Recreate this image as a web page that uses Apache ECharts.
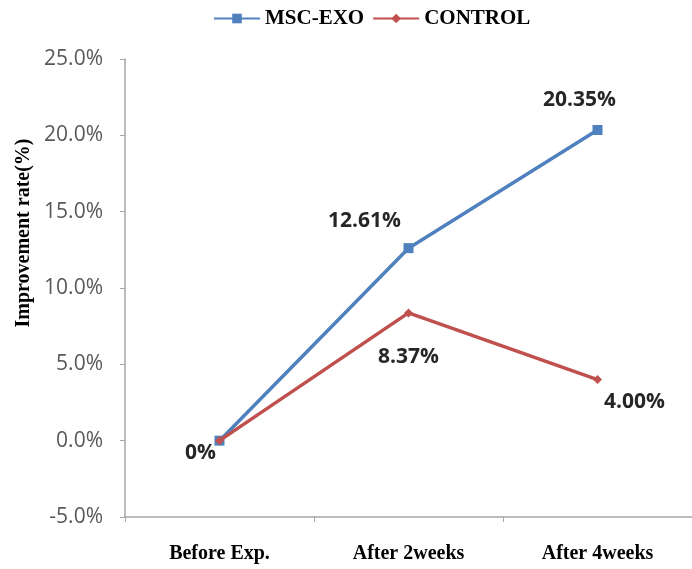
<!DOCTYPE html>
<html>
<head>
<meta charset="utf-8">
<script src="https://cdn.jsdelivr.net/npm/echarts@6/dist/echarts.min.js"></script>
<style>
  html, body { margin: 0; padding: 0; background: #ffffff; }
  #chart { width: 692px; height: 569px; }
</style>
</head>
<body>
<div id="chart"></div>
<script>
// Time points and improvement rates (%)
const categories = ['Before Exp.', 'After 2weeks', 'After 4weeks'];
const mscExo = [0, 12.61, 20.35];
const control = [0, 8.37, 4.00];
const yTicks = { min: -5, max: 25, step: 5 };

const serif = '"Liberation Serif", "Times New Roman", serif';
const sans = '"Open Sans", "Noto Sans", sans-serif';

function fmt(v) {
  return v === 0 ? '0%' : v.toFixed(2) + '%';
}

const labelStyle = {
  show: true,
  fontFamily: sans,
  fontWeight: 'bold',
  fontSize: 21,
  color: '#262626',
  position: 'inside',
  formatter: p => fmt(p.value)
};

// per-point label placement
const mscOffsets = [null, [-44, -27], [-18, -30]];
const ctlOffsets = [[-19, 12], [0, 44], [37, 22]];

function buildData(values, offsets) {
  return values.map((v, i) => {
    const o = offsets[i];
    if (!o) return { value: v, label: { show: false } };
    return { value: v, label: Object.assign({}, labelStyle, { offset: o }) };
  });
}

const chart = echarts.init(document.getElementById('chart'));
chart.setOption({
  animation: false,
  backgroundColor: '#ffffff',
  legend: {
    top: 3,
    left: 208,
    itemWidth: 46,
    itemHeight: 12,
    itemGap: 8,
    textStyle: { fontFamily: serif, fontWeight: 'bold', fontSize: 21, color: '#000000' },
    data: ['MSC-EXO', 'CONTROL']
  },
  grid: { left: 125, width: 571, top: 59, bottom: 52 },
  xAxis: {
    type: 'category',
    data: categories,
    boundaryGap: true,
    axisLine: { onZero: false, lineStyle: { color: '#A6A6A6', width: 1.5 } },
    axisTick: { show: true, length: 5, lineStyle: { color: '#A6A6A6' } },
    axisLabel: {
      margin: 27,
      fontFamily: serif,
      fontWeight: 'bold',
      fontSize: 20,
      color: '#000000'
    }
  },
  yAxis: {
    type: 'value',
    min: yTicks.min,
    max: yTicks.max,
    interval: yTicks.step,
    splitLine: { show: false },
    axisLine: { show: true, lineStyle: { color: '#A6A6A6', width: 1.5 } },
    axisTick: { show: true, length: 5, lineStyle: { color: '#A6A6A6' } },
    axisLabel: {
      margin: 22,
      fontFamily: sans,
      fontSize: 21,
      color: '#595959',
      formatter: v => v.toFixed(1) + '%'
    }
  },
  graphic: [{
    type: 'text',
    x: 24,
    y: 233,
    rotation: Math.PI / 2,
    style: {
      text: 'Improvement rate(%)',
      fontFamily: serif,
      fontWeight: 'bold',
      fontSize: 20,
      fill: '#000000',
      align: 'center',
      verticalAlign: 'middle'
    }
  }],
  series: [
    {
      name: 'MSC-EXO',
      type: 'line',
      data: buildData(mscExo, mscOffsets),
      symbol: 'rect',
      symbolSize: 10,
      z: 3,
      lineStyle: { color: '#4F81BD', width: 3.5 },
      itemStyle: { color: '#4F81BD' }
    },
    {
      name: 'CONTROL',
      type: 'line',
      data: buildData(control, ctlOffsets),
      symbol: 'diamond',
      symbolSize: 9,
      z: 4,
      lineStyle: { color: '#C0504D', width: 3.5 },
      itemStyle: { color: '#C0504D' }
    }
  ]
});
</script>
</body>
</html>
